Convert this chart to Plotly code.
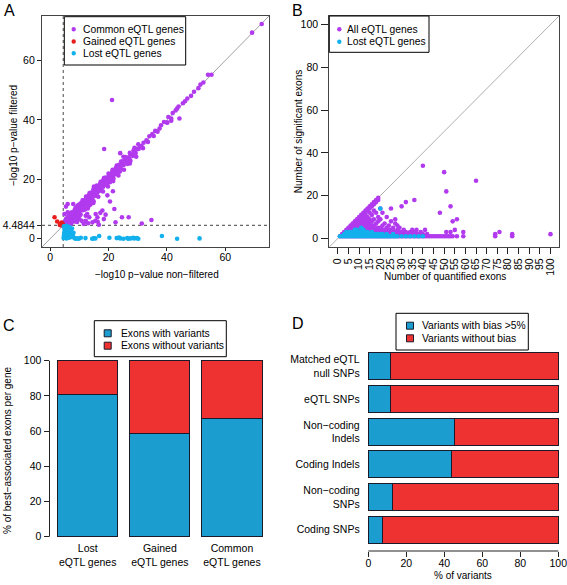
import plotly.graph_objects as go

W, H = 567, 585

# ---------------- Panel A data ----------------
a_common_x = [5, 5.3, 5.6, 6, 6.2, 6.5, 6.8, 7, 7.2, 7.5, 7.8, 8, 8.2, 8.5, 8.8, 9, 9.3, 9.6, 10, 10.2,
              10.5, 10.8, 11, 11.3, 11.6, 12, 12.2, 12.5, 12.8, 13, 13.3, 13.6, 14, 14.3, 14.6, 15, 15.3,
              15.6, 16, 16.3, 16.7, 17, 17.4, 17.8, 18.2, 18.6, 19, 19.4, 19.8, 20.2, 20.6, 21, 21.5, 22,
              22.4, 22.8, 23.3, 23.8, 24.2, 24.7, 25.2, 25.7, 26.2, 26.7, 27.2, 27.8, 28.3, 28.8, 29.3,
              29.8, 30.3, 30.8, 31.3, 32, 33, 34, 35, 36, 36.8, 38, 39, 40, 40.5, 41.5, 42, 43, 44, 44.3,
              45.5, 47, 48.3, 49.3, 50.8, 52.5, 54.1, 55.3, 69.2, 72.5,
              21.2, 18.5, 24, 25.1, 15, 18.4, 19.6, 14.5, 17.9, 15.6, 16.2, 18.4, 7.9, 9.4, 12.2, 13.4,
              10.8, 12.2, 14.5, 16.7, 22.4, 26.9, 31.4, 34.7, 9.4, 10, 7.9, 8.3, 6, 5.4, 5.4, 4.9, 6,
              24.6, 12.7, 17.2, 16.3, 40.2, 41.5, 6.6, 7.3, 8.6, 11.2, 13.8, 20.5, 23, 27.5,
              5.2, 5.8, 6.4, 7.6, 8.4, 9.1, 9.8, 10.6, 11.4, 12.4, 13.2, 14.1, 15.1, 16.1, 17.1, 18.1,
              19.2, 20.3, 21.3, 22.5, 23.6, 24.8, 26, 27.4, 28.6, 9.5, 11.8, 13.9, 15.8, 17.6, 19.5,
              21.7, 23.9, 26.5, 6.9, 8.1, 10.3, 12.9, 14.8, 5.1, 5.9, 7.1,
              5.5, 6.3, 7.1, 8.7, 9.9, 11.1, 12.3, 13.5, 14.8, 16.0, 17.3, 18.6, 20.0, 21.4, 22.8, 24.3,
              25.8, 27.3, 28.9, 30.2, 6.1, 7.2, 8.9, 10.4, 11.9, 13.4, 14.9, 16.5, 18.1, 19.8, 21.6,
              23.4, 25.3, 27.3, 29.5, 31.8, 33.5, 35.5, 37.5, 43.5, 46.2, 51.5, 20.5, 22, 13, 15.5, 11.5,
              9.2, 19, 21.5]
a_common_y = [5.2, 6, 5.1, 6.5, 5.5, 7.2, 6, 7.8, 6.6, 8.3, 7, 8.9, 7.5, 9.3, 8, 10, 8.6, 10.5, 9.2, 11,
              10, 11.6, 10.4, 12.2, 11, 12.8, 11.5, 13.4, 12.2, 14, 12.7, 14.5, 13.3, 15.2, 14, 15.8, 14.6,
              16.4, 15.3, 17, 16, 17.8, 16.7, 18.6, 17.5, 19.4, 18.3, 20.2, 19.2, 21, 20, 21.8, 21, 22.8,
              21.8, 23.6, 22.8, 24.6, 23.8, 25.5, 24.8, 26.4, 25.8, 27.3, 26.8, 28.3, 27.9, 29.3, 28.9,
              30.3, 30.2, 31, 31.2, 32.3, 33.1, 34.5, 35.2, 36.3, 36, 38.2, 39.3, 39.1, 41, 39.7, 42.3, 43.2,
              44.5, 40.5, 45.6, 47.2, 48.1, 49.5, 50.7, 52.6, 55.2, 55.2, 69.4, 72.3,
              46.7, 30.2, 28.8, 27.6, 17.6, 20.3, 14.6, 12.9, 9.5, 8.3, 7.2, 6.6, 11.7, 11.2, 7.7, 7.2,
              6, 6, 5.5, 4.7, 5.5, 7.2, 5.1, 6.3, 7.7, 6.6, 7.2, 5.8, 8.9, 5.5, 10.8, 8.3, 11.7,
              7.2, 8.3, 8.7, 5.7, 39.1, 40.5, 4.9, 5.3, 6.2, 9.6, 11.5, 19, 21.7, 26.2,
              6.1, 6.9, 7.6, 8.9, 9.7, 10.5, 11.3, 12, 12.9, 13.8, 14.6, 15.5, 16.5, 17.5, 18.4, 19.5,
              20.6, 21.6, 22.6, 23.8, 24.9, 26.1, 27.2, 28.5, 29.8, 8.6, 10.6, 12.6, 14.5, 16.3, 18.2,
              20.3, 22.6, 25.2, 5.4, 6.1, 8.0, 10.2, 12.0, 4.8, 4.7, 5.0,
              6.8, 7.9, 8.7, 10.4, 11.5, 12.9, 14.2, 15.4, 16.6, 17.9, 19.2, 20.5, 21.9, 23.2, 24.6, 26.0,
              27.5, 28.9, 30.6, 31.8, 4.9, 5.6, 6.8, 8.2, 9.8, 11.2, 12.6, 14.1, 15.9, 17.6, 19.4,
              21.3, 23.2, 25.3, 27.6, 30.5, 32.6, 34.6, 37.1, 43.8, 46.3, 51.9, 12.5, 10, 5.2, 6.0, 5.0,
              5.6, 8.1, 16]

a_gained_x = [1.5, 2.4, 3.3, 3.6, 3.8, 4.0, 4.1, 4.3, 4.2, 3.5, 3.9, 4.4, 3.7]
a_gained_y = [7.2, 5.8, 4.6, 5.0, 4.6, 5.2, 4.7, 4.9, 4.5, 4.8, 5.4, 4.6, 4.55]

a_lost_x = [4.6, 4.7, 4.8, 4.9, 5.0, 5.1, 5.2, 5.3, 5.4, 5.5, 5.6, 5.7, 5.8, 5.9, 6.0, 6.2, 6.4, 6.5, 6.7,
            6.9, 7.1, 7.3, 7.5, 7.8, 8.0, 8.3, 4.7, 5.0, 6.1, 8.7, 9.3, 9.8, 10.5, 12.1, 14.4, 14.9, 15.5,
            16.8, 20.3, 22.8, 23.6, 24.0, 25.1, 26.4, 26.8, 27.6, 28.5, 28.8, 29.7, 30.2, 38.3, 43.5, 51.2]
a_lost_y = [0.2, 1.0, 2.0, 3.0, 4.0, 0.5, 1.5, 2.5, 3.5, 4.3, 0.1, 1.2, 2.2, 3.2, 0.8, 1.8, 2.8, 0.3, 3.8,
            1.4, 2.4, 0.6, 3.4, 1.0, 2.0, 0.2, 4.2, 3.7, 4.1, 0.0, 0.1, 0.0, 0.3, 0.2, 0.0, 0.1, 0.1,
            0.9, 0.3, 0.2, 0.4, 0.1, 0.0, 0.2, 0.0, 0.1, 0.3, 0.1, 0.2, 0.0, 0.9, 0.0, 0.1]

a_threshold = 4.4844
a_xticks = [0, 20, 40, 60]
a_tickvals = [0, 4.4844, 20, 40, 60]
a_ticktext = ["0", "4.4844", "20", "40", "60"]
a_legend_labels = ["Common eQTL genes", "Gained eQTL genes", "Lost eQTL genes"]

# ---------------- Panel B data (quantified exons -> significant exons) ----------------
b_all_cols = {
    1: [1], 2: [1, 2], 3: [1, 2, 3], 4: [1, 2, 3, 4], 5: [1, 2, 3, 4, 5], 6: [1, 2, 3, 4, 5, 6],
    7: [1, 2, 3, 4, 5, 6, 7], 8: [1, 2, 3, 4, 5, 6, 7, 8], 9: [1, 2, 3, 4, 5, 6, 7, 8, 9],
    10: [1, 2, 3, 4, 5, 6, 7, 8, 9, 10], 11: [1, 2, 3, 4, 5, 6, 7, 8, 9, 10, 11],
    12: [1, 2, 3, 4, 5, 6, 7, 8, 9, 10, 11, 12], 13: [1, 2, 3, 4, 5, 6, 7, 8, 9, 11, 12, 13],
    14: [1, 2, 3, 4, 5, 6, 7, 8, 10, 13, 14], 15: [1, 2, 3, 4, 5, 6, 7, 9, 12, 14, 15],
    16: [1, 2, 3, 4, 5, 6, 8, 11, 15, 16], 17: [1, 2, 3, 4, 5, 6, 9, 13, 16, 17],
    18: [1, 2, 3, 4, 5, 7, 12, 17, 18], 19: [1, 2, 3, 4, 5, 8, 10, 18, 19], 20: [1, 2, 3, 4, 5, 9, 14],
    21: [1, 2, 3, 4, 6, 12], 22: [1, 2, 3, 4, 7], 23: [1, 2, 3, 4, 5, 10], 24: [1, 2, 3, 4, 6],
    25: [1, 2, 3, 4, 8, 14], 26: [1, 2, 3, 4, 5], 27: [1, 2, 3, 7, 9], 28: [1, 2, 3, 4, 6],
    29: [1, 2, 3, 5], 30: [1, 2, 3, 15], 31: [1, 2, 4], 32: [1, 2, 3, 17], 33: [1, 2], 34: [1, 2, 3],
    35: [1, 2, 4], 36: [1, 3, 18], 37: [1, 2, 4], 38: [1, 2], 39: [1, 3], 40: [1, 2, 34], 41: [1, 4],
    42: [1, 2], 43: [1], 44: [1], 45: [1], 46: [1], 47: [1], 48: [1, 12], 49: [1], 50: [1, 31],
    51: [1, 3, 22], 52: [1], 53: [1, 3, 15], 54: [1, 8], 55: [4], 56: [1, 9], 59: [1, 3], 65: [27],
    74: [1, 2], 76: [3], 82: [1, 2], 100: [2],
}
b_lost_cols = {
    1: [1], 2: [1], 3: [1, 2], 4: [1, 2, 3], 5: [1, 2, 3], 6: [1, 2, 3], 7: [1, 2, 3], 8: [1, 2, 3, 4],
    9: [1, 2, 3, 4], 10: [1, 2, 3], 11: [1, 2, 3, 5], 12: [1, 2, 3, 4], 13: [1, 2, 3], 14: [1, 2, 3],
    15: [1, 2], 16: [1, 2, 3], 17: [1, 2], 18: [1, 2], 19: [1, 2], 20: [1, 2, 14], 21: [1, 2],
    22: [1], 23: [1, 2], 24: [1], 25: [1], 26: [1, 2], 27: [1], 28: [1], 30: [1], 32: [1], 34: [1],
    36: [1], 38: [1], 40: [1],
}
b_xticks = [0, 5, 10, 15, 20, 25, 30, 35, 40, 45, 50, 55, 60, 65, 70, 75, 80, 85, 90, 95, 100]
b_yticks = [0, 20, 40, 60, 80, 100]
b_legend_labels = ["All eQTL genes", "Lost eQTL genes"]

# ---------------- Panel C data ----------------
c_categories = ["Lost<br>eQTL genes", "Gained<br>eQTL genes", "Common<br>eQTL genes"]
c_with = [80.7, 58.6, 67.0]
c_without = [19.3, 41.4, 33.0]
c_yticks = [0, 20, 40, 60, 80, 100]
c_legend_labels = ["Exons with variants", "Exons without variants"]

# ---------------- Panel D data ----------------
d_categories = ["Coding SNPs", "Non−coding<br>SNPs", "Coding Indels", "Non−coding<br>Indels",
                "eQTL SNPs", "Matched eQTL<br>null SNPs"]
d_bias = [7.6, 12.8, 43.9, 45.6, 11.6, 11.9]
d_nobias = [92.4, 87.2, 56.1, 54.4, 88.4, 88.1]
d_xticks = [0, 20, 40, 60, 80, 100]
d_legend_labels = ["Variants with bias >5%", "Variants without bias"]

PURPLE = "#B23AEE"
RED_PT = "#E81E1E"
CYAN = "#12B0EC"
BLUE = "#1C9DD0"
RED = "#EE3232"
FONT = "Liberation Sans, Arial, Helvetica, sans-serif"


def cols_to_xy(cols):
    xs, ys = [], []
    for k, vals in cols.items():
        for v in vals:
            xs.append(k)
            ys.append(v)
    return xs, ys


b_all_x, b_all_y = cols_to_xy(b_all_cols)
b_lost_x, b_lost_y = cols_to_xy(b_lost_cols)


def dx(p):
    return p / W


def dy(p):
    return 1 - p / H


fig = go.Figure()

ms = 4.6
fig.add_trace(go.Scatter(x=a_common_x, y=a_common_y, mode="markers", name=a_legend_labels[0],
                         marker=dict(color=PURPLE, size=ms), xaxis="x", yaxis="y"))
fig.add_trace(go.Scatter(x=a_gained_x, y=a_gained_y, mode="markers", name=a_legend_labels[1],
                         marker=dict(color=RED_PT, size=ms), xaxis="x", yaxis="y"))
fig.add_trace(go.Scatter(x=a_lost_x, y=a_lost_y, mode="markers", name=a_legend_labels[2],
                         marker=dict(color=CYAN, size=ms), xaxis="x", yaxis="y"))

fig.add_trace(go.Scatter(x=b_all_x, y=b_all_y, mode="markers", name=b_legend_labels[0],
                         marker=dict(color=PURPLE, size=ms), xaxis="x2", yaxis="y2"))
fig.add_trace(go.Scatter(x=b_lost_x, y=b_lost_y, mode="markers", name=b_legend_labels[1],
                         marker=dict(color=CYAN, size=ms), xaxis="x2", yaxis="y2"))

barline = dict(color="#1a1a2a", width=1)
fig.add_trace(go.Bar(x=c_categories, y=c_with, name=c_legend_labels[0],
                     marker=dict(color=BLUE, line=barline), xaxis="x3", yaxis="y3"))
fig.add_trace(go.Bar(x=c_categories, y=c_without, name=c_legend_labels[1],
                     marker=dict(color=RED, line=barline), xaxis="x3", yaxis="y3"))

fig.add_trace(go.Bar(y=d_categories, x=d_bias, orientation="h", name=d_legend_labels[0],
                     marker=dict(color=BLUE, line=barline), xaxis="x4", yaxis="y4"))
fig.add_trace(go.Bar(y=d_categories, x=d_nobias, orientation="h", name=d_legend_labels[1],
                     marker=dict(color=RED, line=barline), xaxis="x4", yaxis="y4"))

tickfont = dict(family=FONT, size=10.5, color="black")
base_ax = dict(showgrid=False, zeroline=False, ticks="outside", tickcolor="#222",
               tickfont=tickfont, ticklabeloverflow="allow")
frame = dict(showline=True, mirror=True, linecolor="#444", linewidth=1.2)

fig.update_layout(
    width=W, height=H, margin=dict(l=0, r=0, t=0, b=0),
    paper_bgcolor="white", plot_bgcolor="white",
    font=dict(family=FONT, size=10, color="black"),
    barmode="stack", bargap=1 / 6, showlegend=False,
    xaxis=dict(domain=[dx(42), dx(269)], range=[-2.8, 75], tickvals=a_xticks, anchor="y",
               ticklen=3, ticklabelstandoff=-3, **base_ax, **frame),
    yaxis=dict(domain=[dy(247), dy(16)], range=[-2.8, 75], tickvals=a_tickvals, ticktext=a_ticktext,
               anchor="x", ticklen=4, **base_ax, **frame),
    xaxis2=dict(domain=[dx(329.3), dx(559)], range=[-4, 104], tickvals=b_xticks, tickangle=-90,
                anchor="y2", ticklen=6, **base_ax, **frame),
    yaxis2=dict(domain=[dy(247), dy(16)], range=[-4, 104], tickvals=b_yticks, anchor="x2",
                ticklen=7, ticklabelstandoff=1, **base_ax, **frame),
    xaxis3=dict(domain=[dx(49.5), dx(270.2)], range=[-0.53, 2.53], anchor="y3", showgrid=False,
                zeroline=False, ticks="", showline=False, tickfont=tickfont, ticklabelstandoff=-3),
    yaxis3=dict(domain=[dy(543.7), dy(353.7)], range=[-4, 104], tickvals=c_yticks,
                anchor="x3", showline=False, ticklen=5, **base_ax),
    xaxis4=dict(domain=[dx(360.7), dx(565.9)], range=[-4, 104], tickvals=d_xticks,
                anchor="y4", showline=False, ticklen=5, ticklabelstandoff=-3, **base_ax),
    yaxis4=dict(domain=[dy(551), dy(345)], range=[-0.65, 5.65], anchor="x4", showgrid=False,
                zeroline=False, ticks="", showline=False, tickfont=tickfont,
                categoryorder="array", categoryarray=d_categories),
)

shapes = [
    dict(type="line", xref="x", yref="y", x0=-2.8, y0=-2.8, x1=75, y1=75,
         line=dict(color="#888", width=0.8), layer="below"),
    dict(type="line", xref="x", yref="y domain", x0=a_threshold, x1=a_threshold, y0=0, y1=1,
         line=dict(color="#666", width=1.2, dash="dot"), layer="below"),
    dict(type="line", xref="x domain", yref="y", x0=0, x1=1, y0=a_threshold, y1=a_threshold,
         line=dict(color="#666", width=1.2, dash="dot"), layer="below"),
    dict(type="line", xref="x2", yref="y2", x0=-4, y0=-4, x1=104, y1=104,
         line=dict(color="#999", width=0.8), layer="below"),
    dict(type="line", xref="x3 domain", yref="y3", x0=0, x1=0, y0=0, y1=100,
         line=dict(color="#222", width=1)),
    dict(type="line", xref="x4", yref="y4 domain", x0=0, x1=100, y0=0, y1=0,
         line=dict(color="#222", width=1)),
]
ann = []


def add_text(text, x, y, size=10, angle=0, xanchor="center", yanchor="middle"):
    ann.append(dict(text=text, x=dx(x), y=dy(y), xref="paper", yref="paper", showarrow=False,
                    xanchor=xanchor, yanchor=yanchor, textangle=angle,
                    font=dict(family=FONT, size=size, color="black")))


def legend_box(x0, y0, x1, y1, labels, colors, rows, sym_x, text_x, kind):
    shapes.append(dict(type="rect", xref="paper", yref="paper", x0=dx(x0), x1=dx(x1),
                       y0=dy(y1), y1=dy(y0), line=dict(color="black", width=1),
                       fillcolor="white", layer="above"))
    for lab, col, ry in zip(labels, colors, rows):
        if kind == "dot":
            r = 2.2
            shapes.append(dict(type="circle", xref="paper", yref="paper", x0=dx(sym_x - r),
                               x1=dx(sym_x + r), y0=dy(ry + r), y1=dy(ry - r), fillcolor=col,
                               line=dict(width=0), layer="above"))
        else:
            r = 3.5
            shapes.append(dict(type="rect", xref="paper", yref="paper", x0=dx(sym_x - r),
                               x1=dx(sym_x + r), y0=dy(ry + r), y1=dy(ry - r), fillcolor=col,
                               line=dict(color="#1a1a2a", width=1), layer="above"))
        add_text(lab, text_x, ry, size=10.3, xanchor="left")


legend_box(64.3, 16.7, 185.7, 65, a_legend_labels, [PURPLE, RED_PT, CYAN], [29.3, 41.5, 53.3],
           73.7, 80.5, "dot")
legend_box(329.3, 16, 429, 52.3, b_legend_labels, [PURPLE, CYAN], [29.3, 41.7], 339.3, 344.5, "dot")
legend_box(94.3, 320.7, 226.3, 356.7, c_legend_labels, [BLUE, RED], [333.3, 345.7], 107.7, 118.5,
           "square")
legend_box(396, 313.3, 528.3, 350, d_legend_labels, [BLUE, RED], [325.7, 338.3], 410, 420.3,
           "square")

add_text("−log10 p−value non−filtered", 156.7, 274.5)
add_text("−log10 p−value filtered", 13, 136, angle=-90)
add_text("Number of quantified exons", 445, 276.5)
add_text("Number of significant exons", 298.5, 131.7, angle=-90)
add_text("% of best−associated exons per gene", 7, 451, angle=-90)
add_text("% of variants", 463, 575)
add_text("A", 9, 0, size=16, yanchor="top")
add_text("B", 297.5, 0, size=16, yanchor="top")
add_text("C", 9, 315, size=16, yanchor="top")
add_text("D", 298, 313, size=16, yanchor="top")
fig.update_layout(shapes=shapes, annotations=ann)

fig.write_html("out.html", config={"displayModeBar": False},
               post_script="document.body.style.margin='0';document.body.style.overflow='hidden';")
